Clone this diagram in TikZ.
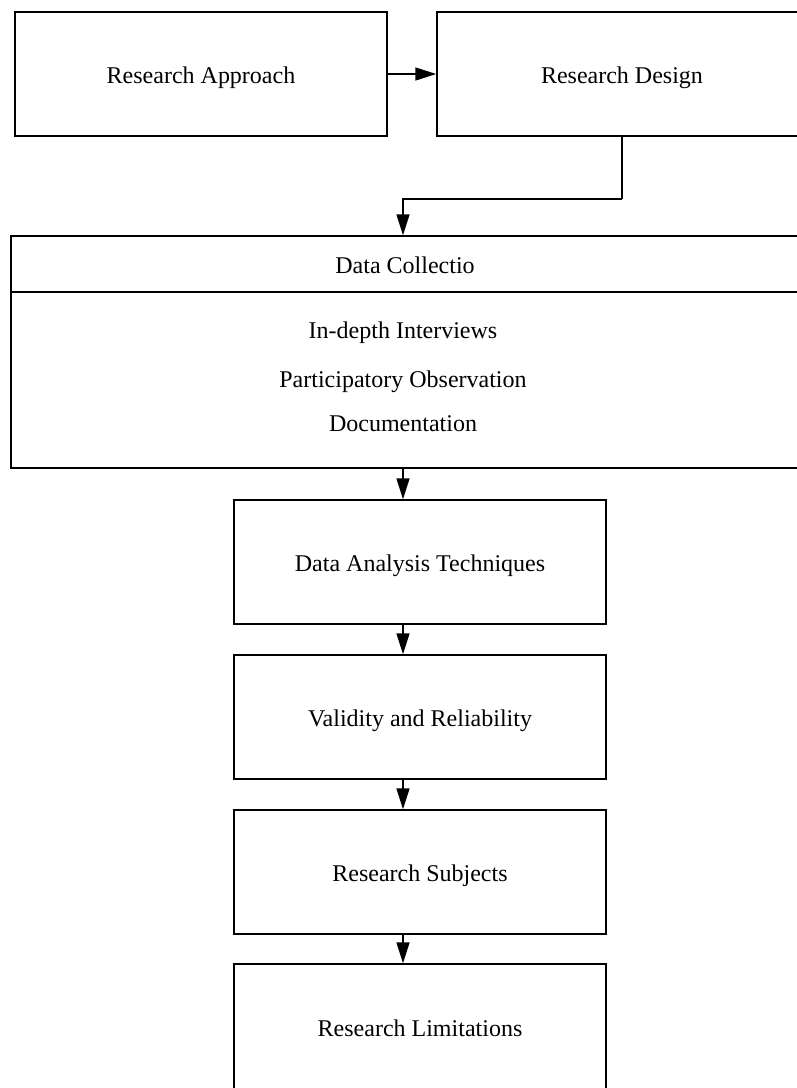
\documentclass[tikz,border=0pt]{standalone}
\usepackage{fontspec}
\setmainfont{Liberation Serif}
\usetikzlibrary{arrows.meta}
\begin{document}
\begin{tikzpicture}[x=0.5pt,y=-0.5pt,
  box/.style={draw, line width=0.75pt, rectangle, minimum width=186pt, minimum height=62pt, inner sep=0pt, text height=9.2pt, text depth=0pt, font=\fontsize{12}{14}\selectfont},
  arr/.style={draw, line width=0.75pt, -{Triangle[length=10.5pt,width=6.5pt]}},
  lbl/.style={font=\fontsize{12}{14}\selectfont, inner sep=0pt}]
\useasboundingbox (0,0) rectangle (797,1088);
\clip (0,0) rectangle (797,1088);
% top row
\node[box] (approach) at (201,74) {Research Approach};
\node[box, minimum width=185pt] (design) at (622,74) {Research Design};
% data collection
\node[box, minimum width=394pt, minimum height=28pt] (dch) at (405,264) {Data Collectio};
\node[box, minimum width=394pt, minimum height=88pt] (dcb) at (405,380) {};
\node[lbl] (i1) at (403,333) {In-depth Interviews};
\node[lbl] (i2) at (403,382) {Participatory Observation};
\node[lbl] (i3) at (403,424) {Documentation};
% lower chain
\node[box] (analysis) at (420,562) {Data Analysis Techniques};
\node[box] (validity) at (420,717) {Validity and Reliability};
\node[box] (subjects) at (420,872) {Research Subjects};
\node[box, minimum height=63pt] (limits) at (420,1027) {Research Limitations};
% connectors
\coordinate (ax) at (403,0);
\coordinate (j) at (622,199);
\draw[arr] (approach.east) -- (design.west);
\draw[line width=0.75pt] (design.south) -- (j);
\draw[arr] (j) -| (dch.north -| ax);
\draw[arr] (dcb.south -| ax) -- (analysis.north -| ax);
\draw[arr] (analysis.south -| ax) -- (validity.north -| ax);
\draw[arr] (validity.south -| ax) -- (subjects.north -| ax);
\draw[arr] (subjects.south -| ax) -- (limits.north -| ax);
\end{tikzpicture}
\end{document}
